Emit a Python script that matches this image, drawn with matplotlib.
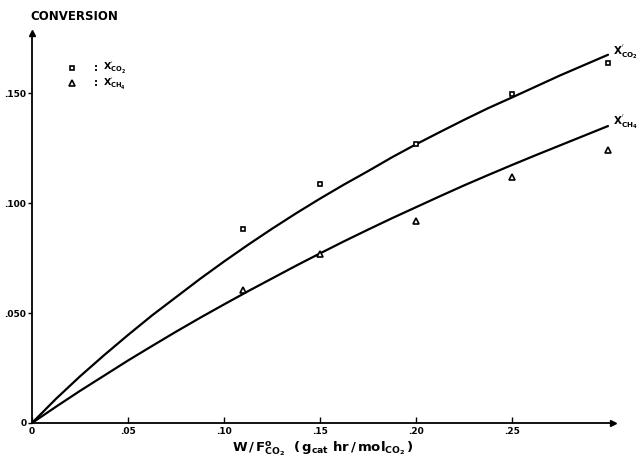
import matplotlib
matplotlib.use("Agg")
import matplotlib.pyplot as plt

# measured data points
x_pts = [0.11, 0.15, 0.20, 0.25, 0.30]
co2_pts = [0.088, 0.1085, 0.1267, 0.1497, 0.1635]
ch4_pts = [0.0605, 0.0768, 0.0917, 0.1118, 0.124]

# fitted curves
x_curve = [0.0, 0.0125, 0.025, 0.0375, 0.05, 0.0625, 0.075, 0.0875, 0.10, 0.1125,
           0.125, 0.1375, 0.15, 0.1625, 0.175, 0.1875, 0.20, 0.2125, 0.225, 0.2375,
           0.25, 0.2625, 0.275, 0.2875, 0.30]
co2_curve = [0.0, 0.0110, 0.0212, 0.0308, 0.0400, 0.0489, 0.0572, 0.0655, 0.0734, 0.0810,
             0.0883, 0.0953, 0.1020, 0.1084, 0.1145, 0.1208, 0.1267, 0.1323, 0.1378, 0.1431,
             0.1480, 0.1530, 0.1580, 0.1627, 0.1674]
ch4_curve = [0.0, 0.0074, 0.0146, 0.0215, 0.0284, 0.0350, 0.0415, 0.0478, 0.0539, 0.0599,
             0.0657, 0.0715, 0.0771, 0.0826, 0.0879, 0.0931, 0.0981, 0.1031, 0.1080, 0.1127,
             0.1173, 0.1218, 0.1262, 0.1306, 0.1350]

x_ticks = [0, 0.05, 0.10, 0.15, 0.20, 0.25]
x_ticklabels = ["0", ".05", ".10", ".15", ".20", ".25"]
y_ticks = [0, 0.05, 0.10, 0.15]
y_ticklabels = ["0", ".050", ".100", ".150"]

plt.rcParams['mathtext.fontset'] = 'dejavusans'
plt.rcParams['mathtext.default'] = 'bf'

fig = plt.figure(figsize=(6.41, 4.59), dpi=100)
ax = fig.add_axes([32/641, 36/459, (613-32)/641, (423-33)/459])
ax.set_xlim(0, 0.3026)
ax.set_ylim(0, 0.1773)

ax.plot(x_curve, co2_curve, color='black', lw=1.6, solid_capstyle='round', solid_joinstyle='round')
ax.plot(x_curve, ch4_curve, color='black', lw=1.6, solid_capstyle='round', solid_joinstyle='round')
ax.plot(x_pts, co2_pts, linestyle='none', marker='s', ms=3.5, mfc='white', mec='black', mew=1.2)
ax.plot(x_pts, ch4_pts, linestyle='none', marker='^', ms=4, mfc='white', mec='black', mew=1.2)

for s in ['top', 'right']:
    ax.spines[s].set_visible(False)
for s in ['left', 'bottom']:
    ax.spines[s].set_linewidth(1.3)

ax.plot(1, 0, marker='>', color='black', ms=5, transform=ax.transAxes, clip_on=False)
ax.plot(0, 1, marker='^', color='black', ms=5, transform=ax.transAxes, clip_on=False)

ax.set_xticks(x_ticks)
ax.set_xticklabels(x_ticklabels, fontsize=6.5, fontweight='bold')
ax.set_yticks(y_ticks)
ax.set_yticklabels(y_ticklabels, fontsize=6.5, fontweight='bold')
ax.tick_params(axis='x', direction='in', length=4, width=1, pad=3)
ax.tick_params(axis='y', direction='out', length=3, width=1, pad=1)

ax.set_xlabel(r"$W\,/\,F^{o}_{CO_2}\ \ (\,g_{cat}\ hr\,/\,mol_{CO_2}\,)$", fontsize=9.5, labelpad=2)

fig.text(30/641, 1 - 16/459, "CONVERSION", fontsize=8.5, fontweight='bold', va='center', ha='left')

# legend
ax.plot(0.021, 0.1612, marker='s', ms=3.5, mfc='white', mec='black', mew=1.2, clip_on=False)
ax.plot(0.021, 0.1545, marker='^', ms=4, mfc='white', mec='black', mew=1.2, clip_on=False)
ax.text(0.032, 0.1612, ":", fontsize=7, fontweight='bold', va='center')
ax.text(0.032, 0.1545, ":", fontsize=7, fontweight='bold', va='center')
ax.text(0.037, 0.1612, r"$X^{'}_{CO_2}$", fontsize=6.8, va='center')
ax.text(0.037, 0.1540, r"$X^{'}_{CH_4}$", fontsize=6.8, va='center')

# curve labels
ax.text(0.3028, 0.1686, r"$X^{'}_{CO_2}$", fontsize=7.5, va='center', clip_on=False)
ax.text(0.3028, 0.1368, r"$X^{'}_{CH_4}$", fontsize=7.5, va='center', clip_on=False)

fig.savefig("out.png", dpi=100)
